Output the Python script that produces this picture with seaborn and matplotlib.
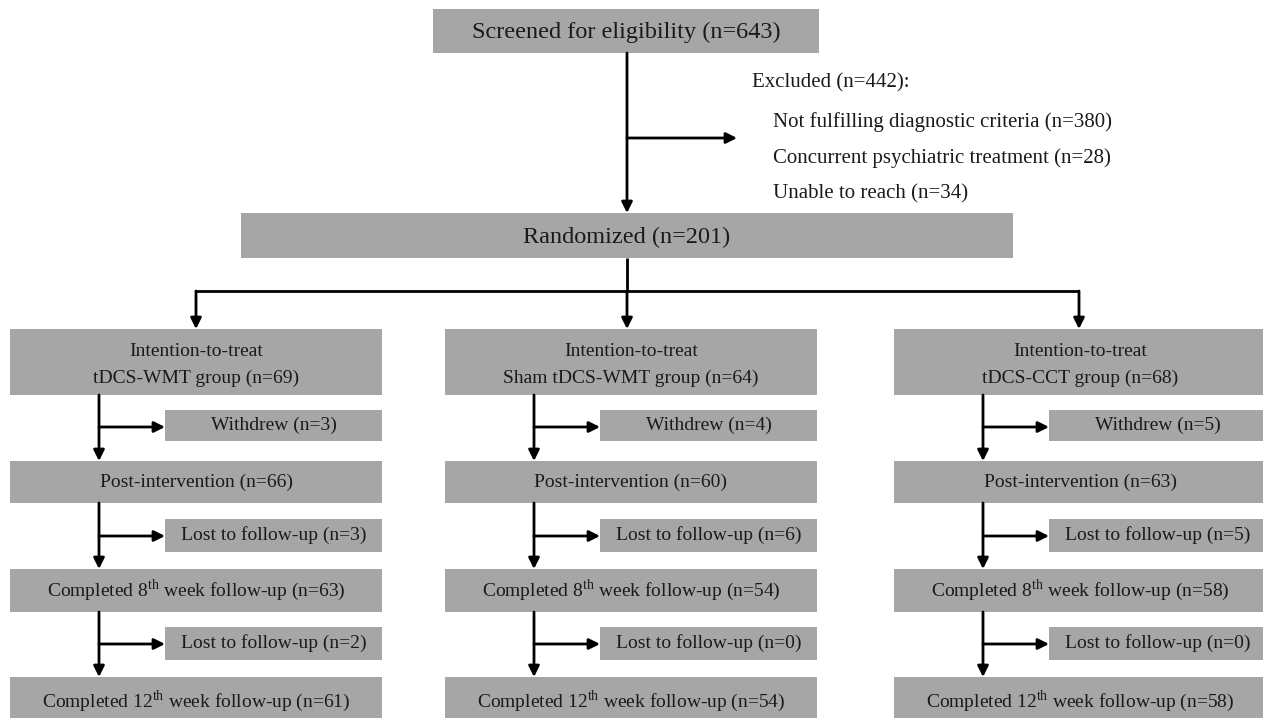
import matplotlib.pyplot as plt
import seaborn as sns

# ---- data ----
screened = 643
excluded = 442
excluded_reasons = ['Not fulfilling diagnostic criteria', 'Concurrent psychiatric treatment', 'Unable to reach']
excluded_counts = [380, 28, 34]
randomized = 201

groups = ['tDCS-WMT', 'Sham tDCS-WMT', 'tDCS-CCT']
itt_n = [69, 64, 68]
withdrew_n = [3, 4, 5]
post_n = [66, 60, 63]
lost8_n = [3, 6, 5]
week8_n = [63, 54, 58]
lost12_n = [2, 0, 0]
week12_n = [61, 54, 58]

# ---- style ----
sns.set_theme(style='white')
plt.rcParams['font.family'] = ['Liberation Serif', 'DejaVu Serif']
plt.rcParams['mathtext.fontset'] = 'custom'
plt.rcParams['mathtext.rm'] = 'Liberation Serif'

GRAY = '#a6a6a6'
TXT = '#1a1a1a'

fig = plt.figure(figsize=(12.63, 7.18), dpi=100)
ax = fig.add_axes([0, 0, 1, 1])
ax.set_xlim(0, 1263)
ax.set_ylim(718, 0)
ax.axis('off')


def box(x0, y0, x1, y1, text, size=14, ty=None):
    ax.add_patch(plt.Rectangle((x0, y0), x1 - x0, y1 - y0, facecolor=GRAY, edgecolor='none'))
    ty = (y0 + y1) / 2 if ty is None else ty
    ax.text((x0 + x1) / 2, ty, text, ha='center', va='center', fontsize=size, color=TXT,
            linespacing=1.7)


def line(xs, ys):
    ax.plot(xs, ys, color='black', lw=2, solid_capstyle='butt')


def arrow(x1, y1, x2, y2):
    ax.annotate('', xy=(x2, y2), xytext=(x1, y1),
                arrowprops=dict(arrowstyle='-|>', color='black', lw=2,
                                mutation_scale=16, shrinkA=0, shrinkB=0))


# top part
box(433, 9, 819, 53, 'Screened for eligibility (n=%d)' % screened, size=17.5, ty=32)
arrow(627, 53, 627, 213)
arrow(627, 138, 737, 138)
ax.text(752, 83, 'Excluded (n=%d):' % excluded, ha='left', va='center', fontsize=15, color=TXT)
for i, (r, c) in enumerate(zip(excluded_reasons, excluded_counts)):
    ax.text(773, [122, 158, 194][i], '%s (n=%d)' % (r, c), ha='left', va='center',
            fontsize=15, color=TXT)

box(241, 213, 1013, 258, 'Randomized (n=%d)' % randomized, size=17.5, ty=237)
line([627, 627], [258, 291])
line([196, 1079], [291, 291])

# groups
lefts = [10, 445, 894]
centers = [196, 627, 1079]
W = 372

for i, g in enumerate(groups):
    L = lefts[i]
    C = centers[i]
    vx = L + 89
    sx = L + 155
    arrow(C, 291, C, 329)
    box(L, 329, L + W, 395, 'Intention-to-treat\n%s group (n=%d)' % (g, itt_n[i]), ty=365)
    box(sx, 410, L + W, 441, 'Withdrew (n=%d)' % withdrew_n[i])
    box(L, 461, L + W, 503, 'Post-intervention (n=%d)' % post_n[i])
    box(sx, 519, L + W, 552, 'Lost to follow-up (n=%d)' % lost8_n[i])
    box(L, 569, L + W, 612, r'Completed 8$^{\mathrm{th}}$ week follow-up (n=%d)' % week8_n[i])
    box(sx, 627, L + W, 660, 'Lost to follow-up (n=%d)' % lost12_n[i])
    box(L, 677, L + W, 730, r'Completed 12$^{\mathrm{th}}$ week follow-up (n=%d)' % week12_n[i], ty=701)
    # flow arrows
    arrow(vx, 395, vx, 461)
    arrow(vx, 427, sx, 427)
    arrow(vx, 503, vx, 569)
    arrow(vx, 536, sx, 536)
    arrow(vx, 612, vx, 677)
    arrow(vx, 644, sx, 644)

fig.savefig('out.png', dpi=100, facecolor='white')
